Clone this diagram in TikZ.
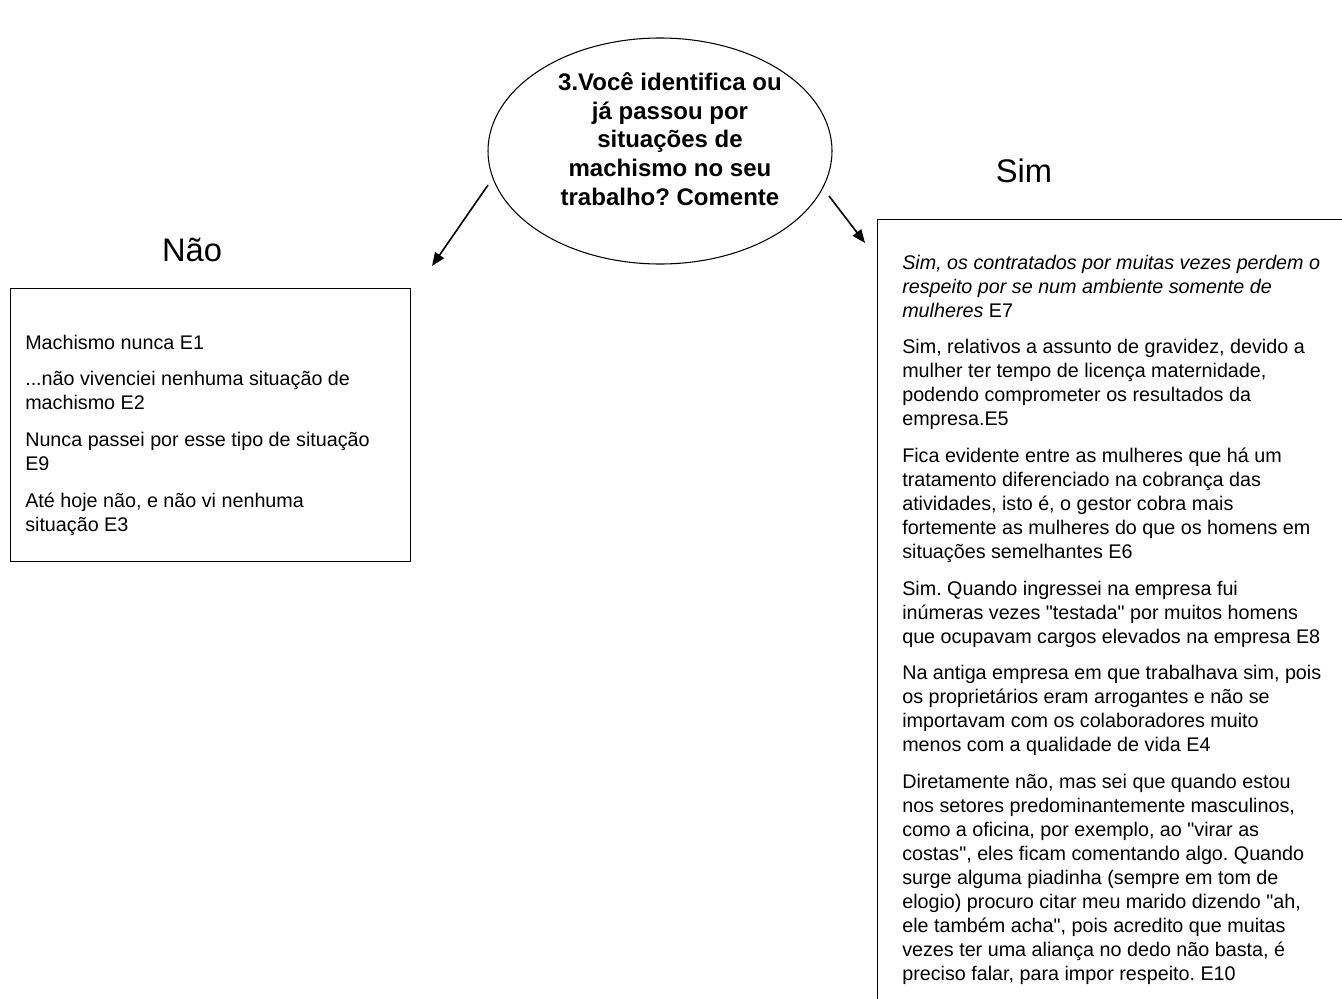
\documentclass[tikz,border=0pt]{standalone}
\usepackage{fontspec}
\newfontfamily\arial{Liberation Sans}
\usetikzlibrary{positioning}
\usetikzlibrary{arrows.meta,shapes}

\begin{document}
\frenchspacing
\begin{tikzpicture}[every node/.style={inner sep=0pt},x=0.75pt,y=-0.75pt,
  resposta/.style={align=left,anchor=north west,font=\arial\fontsize{14.8}{18}\selectfont},
  titulo/.style={anchor=base,font=\arial\fontsize{24.5}{28}\selectfont},
  caixa/.style={draw=black,line width=0.8pt,anchor=north west},
  seta/.style={-{Triangle[length=10pt,width=8pt]},line width=1.2pt}]
\useasboundingbox (0,0) rectangle (1342,999);
\clip (0,0) rectangle (1342,999);

\node[ellipse,draw=black,line width=0.8pt,minimum width=258pt,minimum height=169.5pt] (pergunta) at (660,151) {};
\node[align=center,anchor=north,font=\arial\bfseries\fontsize{18}{21.5}\selectfont] (perguntatxt) at (670,70)
  {\strut 3.Você identifica ou\\já passou por\\situações de\\machismo no seu\\trabalho? Comente};

\node[titulo] (nao) at (192,261) {Não};
\node[titulo] (sim) at (1024,182) {Sim};

\coordinate (naoini) at (488,185);
\coordinate (naofim) at (432,266);
\coordinate (simini) at (829,196);
\coordinate (simfim) at (865,243);
\draw[seta] (naoini) -- (naofim);
\draw[seta] (simini) -- (simfim);

\node[caixa,minimum width=300pt,minimum height=204.75pt] (naobox) at (10,288) {};
\node[caixa,minimum width=375pt,minimum height=600pt] (simbox) at (877,219) {};

\node[resposta] (naotxt) at (25,332.2) {\strut Machismo nunca E1\\[9.5pt]
...não vivenciei nenhuma situação de\\machismo E2\\[9.5pt]
Nunca passei por esse tipo de situação\\E9\\[9.5pt]
Até hoje não, e não vi nenhuma\\situação E3};

\node[resposta] (simtxt) at (902,252.2) {\strut\textit{Sim, os contratados por muitas vezes perdem o}\\
\textit{respeito por se num ambiente somente de}\\\textit{mulheres} E7\\[9.5pt]
Sim, relativos a assunto de gravidez, devido a\\mulher ter tempo de licença maternidade,\\
podendo comprometer os resultados da\\empresa.E5\\[9.5pt]
Fica evidente entre as mulheres que há um\\tratamento diferenciado na cobrança das\\
atividades, isto é, o gestor cobra mais\\fortemente as mulheres do que os homens em\\
situações semelhantes E6\\[9.5pt]
Sim. Quando ingressei na empresa fui\\inúmeras vezes "testada" por muitos homens\\
que ocupavam cargos elevados na empresa E8\\[9.5pt]
Na antiga empresa em que trabalhava sim, pois\\os proprietários eram arrogantes e não se\\
importavam com os colaboradores muito\\menos com a qualidade de vida E4\\[9.5pt]
Diretamente não, mas sei que quando estou\\nos setores predominantemente masculinos,\\
como a oficina, por exemplo, ao "virar as\\costas", eles ficam comentando algo. Quando\\
surge alguma piadinha (sempre em tom de\\elogio) procuro citar meu marido dizendo "ah,\\
ele também acha", pois acredito que muitas\\vezes ter uma aliança no dedo não basta, é\\
preciso falar, para impor respeito. E10};
\end{tikzpicture}
\end{document}
